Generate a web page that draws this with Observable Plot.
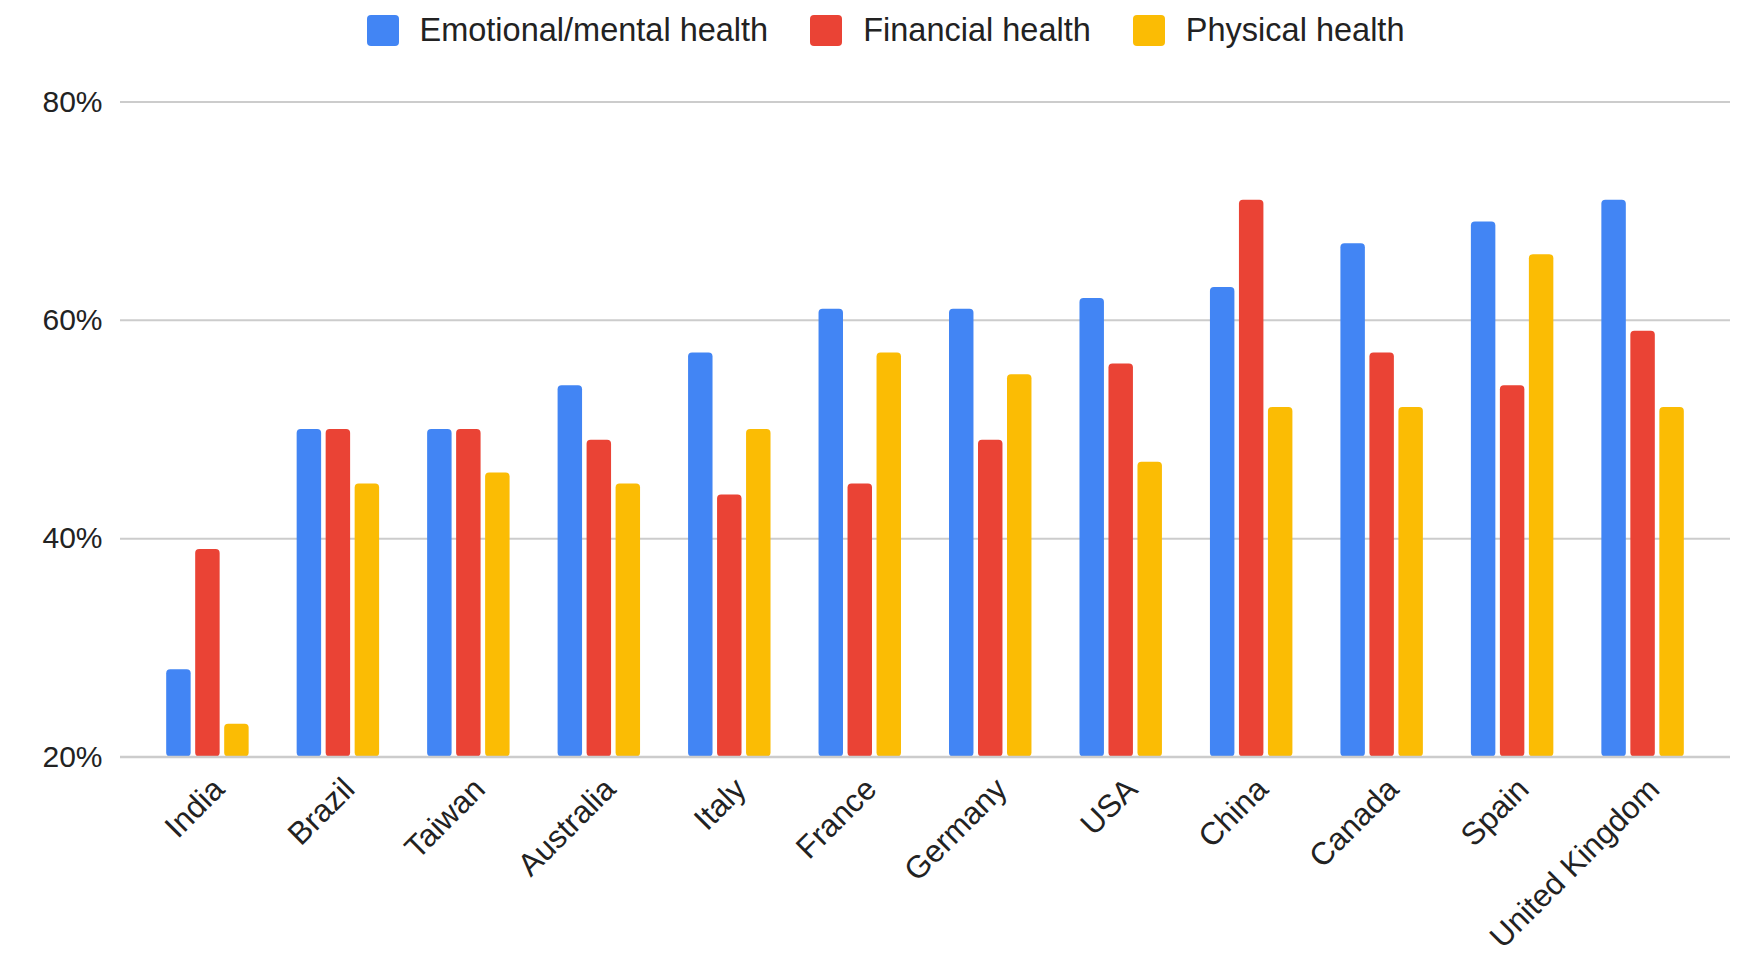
<!DOCTYPE html>
<html><head><meta charset="utf-8">
<script src="https://cdn.jsdelivr.net/npm/d3@7"></script>
<script src="https://cdn.jsdelivr.net/npm/@observablehq/plot@0.6"></script>
<style>
body{margin:0;background:#fff;font-family:"Liberation Sans",Arial,sans-serif;}
#legend{height:60px;display:flex;justify-content:center;align-items:center;padding-left:24px;box-sizing:border-box;font-size:32.5px;color:#222;}
.item{display:flex;align-items:center;margin:0 21px;}
.sw{width:32px;height:31px;border-radius:4px;margin-right:21px;}
#chart svg{display:block;}
</style></head><body>
<div id="legend"></div><div id="chart"></div>
<script>
const countries = ["India","Brazil","Taiwan","Australia","Italy","France","Germany","USA","China","Canada","Spain","United Kingdom"];
const emotional = [28,50,50,54,57,61,61,62,63,67,69,71];
const financial = [39,50,50,49,44,45,49,56,71,57,54,59];
const physical  = [23,45,46,45,50,57,55,47,52,52,66,52];
const seriesNames = ["Emotional/mental health","Financial health","Physical health"];
const seriesColors = ["#4285F4","#EA4335","#FBBC04"];
const yTicks = [20,40,60,80];

// legend
const legend = document.getElementById("legend");
seriesNames.forEach((name,i)=>{
  const it = document.createElement("div"); it.className="item";
  const sw = document.createElement("div"); sw.className="sw"; sw.style.background=seriesColors[i];
  const tx = document.createElement("span"); tx.textContent=name;
  it.appendChild(sw); it.appendChild(tx); legend.appendChild(it);
});

const W = 1747, H = 896;
const mL = 120, mR = 17, mT = 41.4, mB = 199.5;
const pInner = 0.368, pOuter = 0.354;
const n = countries.length;
const step = (W - mL - mR) / (n - pInner + 2*pOuter);
const bw = step * (1 - pInner);
const gapFrac = 0.055;
const gap = bw * gapFrac;
const barW = (bw - 2*gap) / 3;

const allSeries = [emotional, financial, physical];
const base = yTicks[0];

const barMarks = allSeries.map((vals, i) => {
  const data = countries.map((c, j) => ({country: c, value: vals[j]}));
  const left = i * (barW + gap);
  return Plot.barY(data, {
    x: "country", y1: () => base, y2: "value",
    fill: seriesColors[i],
    insetLeft: left, insetRight: bw - left - barW,
    rx: 4
  });
});

const chart = Plot.plot({
  width: W, height: H,
  marginLeft: mL, marginRight: mR, marginTop: mT, marginBottom: mB,
  style: {fontFamily: '"Liberation Sans", Arial, sans-serif', fontSize: "30px", color: "#222", background: "#fff"},
  x: {domain: countries, paddingInner: pInner, paddingOuter: pOuter, align: 0.5, round: false},
  y: {domain: [20, 80]},
  marks: [
    Plot.ruleY(yTicks.slice(1), {stroke: "#cccccc", strokeWidth: 2}),
    ...barMarks,
    Plot.ruleY([base], {stroke: "#cccccc", strokeWidth: 2.5}),
    Plot.axisY(yTicks, {tickSize: 0, tickPadding: 18, tickFormat: d => d + "%", label: null, fill: "#222", fontSize: 30}),
    Plot.axisX({tickSize: 0, tickPadding: 27, tickRotate: -45, dx: 11, label: null, fill: "#222", fontSize: 31.5})
  ]
});
document.getElementById("chart").appendChild(chart);
</script>
</body></html>
